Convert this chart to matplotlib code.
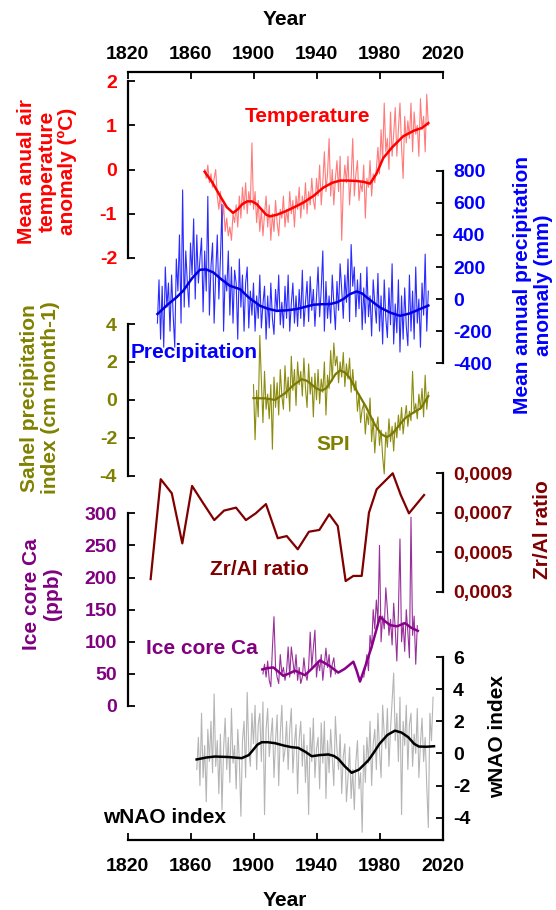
import numpy as np
import matplotlib
matplotlib.use('Agg')
import matplotlib.pyplot as plt

plt.rcParams['font.family'] = ['Liberation Sans', 'DejaVu Sans']
plt.rcParams['font.weight'] = 'bold'
plt.rcParams['axes.unicode_minus'] = False

# ---- data ----
# temperature anomaly (ºC), annual from 1869
temp_start = 1869
temp = [0.0, -0.2, 0.1, -0.3, -0.1, -0.4, -0.2, 0.0, -0.6, -0.9,
        -0.5, -1.2, -0.8, -1.4, -1.1, -1.5, -1.3, -1.6, -1.0, -1.2,
        -0.8, -1.3, -0.6, -1.1, -0.4, -0.9, -0.3, -1.0, -0.5, -0.8,
        0.6, -0.9, -0.5, -1.2, -0.7, -1.4, -0.9, -1.5, -1.0, -0.6,
        -1.3, -0.8, -1.6, -1.0, -1.4, -0.7, -1.2, -1.5, -0.9, -1.1,
        -0.6, -1.3, -0.9, -1.2, -0.5, -1.0, -0.7, -1.3, -0.6, -0.9,
        -0.4, -1.1, -0.6, -0.9, -0.3, -1.0, -0.5, -0.8, -0.2, -0.7,
        -0.9, -0.2, -0.6, 0.1, -0.8, -0.3, 0.4, -0.5, -0.1, 0.7,
        -0.6, 0.0, -0.8, -0.2, 0.2, -0.5, 0.3, -1.6, -0.4, 0.1,
        -0.3, 0.3, -0.8, -0.2, 0.7, -0.6, -0.1, 0.2, -0.7, -0.3,
        -0.5, 0.1, -1.1, -0.2, -0.4, 0.2, -0.6, -0.1, -0.3, 0.0,
        0.5, -0.1, 0.9, 0.2, 1.5, 0.4, 0.7, 0.0, 1.3, 0.3,
        0.8, 1.4, 0.3, 0.9, 1.5, 0.5, -0.2, 1.2, 0.6, 1.1,
        0.7, 1.5, 0.4, 1.3, 0.8, 1.0, 0.3, 1.6, 0.9, 1.2,
        0.4, 1.7, 1.0]
temp_smooth_yr = [1869, 1874, 1878, 1883, 1887, 1890, 1893, 1896, 1899, 1902, 1905, 1908,
                  1910.5, 1915, 1920, 1926, 1931.6, 1938, 1944.3, 1950, 1955, 1960,
                  1965.5, 1970, 1974, 1978, 1982.4, 1988, 1995, 2002, 2007, 2011]
temp_smooth = [-0.05, -0.3, -0.55, -0.85, -0.98, -0.9, -0.78, -0.72, -0.72, -0.78, -0.9, -1.02,
               -1.06, -1.02, -0.95, -0.85, -0.75, -0.6, -0.41, -0.3, -0.25, -0.25,
               -0.26, -0.28, -0.32, -0.1, 0.26, 0.5, 0.75, 0.88, 0.94, 1.05]

# annual precipitation anomaly (mm), annual from 1839
prec_start = 1839
prec = [-150, 120, -250, 80, -300, 200, -50, 100, -200, 150,
        -100, -300, 250, 50, 400, -150, 680, -50, 300, 100,
        -50, 350, 150, 500, 0, 400, 100, 250, 380, -80,
        300, 50, 640, -100, 200, 350, -150, 150, 400, 0,
        250, 590, -200, 150, 50, 300, -100, 200, -150, 180,
        100, -250, 250, -50, 150, -200, 100, 200, -180, 50,
        -100, 100, -200, 20, -120, 150, -180, -30, 80, -250,
        20, -180, 100, -120, -220, 60, -80, 150, -160, -20,
        -180, 80, -120, 150, -200, -30, 100, -150, 20, -170,
        60, -120, 180, -170, -20, 110, -140, 140, -70, 60,
        -170, 20, 200, -110, 60, 300, -200, 110, -120, 20,
        -150, 150, -30, -190, 110, -70, 220, 60, -120, 150,
        -20, 250, -140, 340, 80, 200, -110, 120, -60, 160,
        -190, 70, -150, 200, -110, 20, -230, 120, -30, -150,
        160, -200, 20, -280, 120, -120, -240, 70, -160, 220,
        -280, -30, -210, 120, -330, 20, -250, 70, -170, -290,
        150, -200, 50, -250, 200, -150, 0, -300, 100, -100,
        280, -200, 50]
prec_smooth_yr = [1839, 1846, 1851, 1855.4, 1861, 1866, 1870, 1874.5, 1880, 1885, 1891.4,
                  1897, 1904, 1909, 1914.7, 1921, 1927.4, 1933, 1938, 1943, 1948.6, 1953,
                  1957, 1961, 1965.5, 1969, 1972, 1976, 1980.3, 1987, 1993, 1999, 2005.7, 2011]
prec_smooth = [-93, -30, 10, 52, 130, 183, 185, 166, 120, 83, 62,
               10, -41, -60, -73, -70, -62, -48, -35, -32, -31, -20,
               0, 30, 48, 35, 10, -20, -52, -85, -104, -90, -62, -40]

# Sahel precipitation index (cm month-1), annual from 1900
spi_start = 1900
spi = [0.8, -2.1, 0.5, -0.9, 3.4, 1.0, -1.2, 1.5, -0.5, 0.3,
       -1.0, 0.8, -2.6, 1.2, -0.4, 0.9, -0.8, 1.6, 0.2, -0.5,
       1.8, 0.1, 1.2, -0.6, 2.3, 0.5, 1.6, -0.3, 2.0, 0.8,
       1.5, 0.2, 2.2, 0.6, -0.4, 1.9, 0.3, 1.2, -0.9, 1.4,
       0.0, 1.6, -0.2, 1.1, 0.4, 2.0, -0.8, 1.3, 0.6, 2.6,
       1.0, 3.0, 1.8, 2.3, 0.9, 2.0, 1.2, 2.5, 0.7, 1.9,
       1.1, 2.2, 0.4, 1.6, 0.5, 1.0, -0.6, 0.3, -1.2, -0.5,
       -0.2, -1.8, -0.7, -1.3, 0.1, -2.2, -1.0, -2.8, -1.5, -0.9,
       -2.4, -1.6, -3.0, -3.9, -1.7, -2.5, -1.0, -2.2, -1.4, -2.7,
       -1.2, -2.0, -0.8, -1.6, -0.4, -1.8, -1.0, -0.3, -1.4, -0.6,
       -1.1, 1.5, -0.7, -0.2, -1.0, 0.3, -0.5, 0.6, -0.9, 1.3,
       -0.5, 0.4]
spi_smooth_yr = [1900, 1907, 1913.7, 1920, 1925, 1930.6, 1934, 1937, 1940, 1943.3, 1946, 1949,
                 1952, 1954.9, 1958, 1961.3, 1966, 1971.3, 1977, 1981, 1984.6, 1988, 1992,
                 1996.2, 2001, 2006.2, 2011]
spi_smooth = [0.09, 0.08, 0.0, 0.35, 0.75, 1.09, 1.0, 0.8, 0.6, 0.49, 0.6, 0.95,
              1.35, 1.55, 1.45, 1.14, 0.4, -0.35, -1.3, -1.8, -1.97, -1.8, -1.4,
              -0.97, -0.7, -0.44, 0.2]

# Zr/Al ratio
zr_yr = [1834.7, 1841.1, 1848.1, 1854.8, 1861.0, 1868.1, 1875.1, 1881.3, 1888.9, 1895.2,
         1901.4, 1907.9, 1915.4, 1921.1, 1928.1, 1935.2, 1941.8, 1948.1, 1953.5, 1958.5,
         1963.4, 1968.7, 1973.3, 1978.2, 1988.4, 1993.5, 1998.7, 2008.3]
zr = [0.000364, 0.000870, 0.000799, 0.000545, 0.000836, 0.000748, 0.000663, 0.000711, 0.000726, 0.000663,
      0.000697, 0.000744, 0.000571, 0.000582, 0.000515, 0.000604, 0.000613, 0.000692, 0.000633, 0.000354,
      0.000380, 0.000380, 0.000700, 0.000819, 0.000900, 0.000790, 0.000697, 0.000790]
zr_ticks = [0.0003, 0.0005, 0.0007, 0.0009]
zr_ticklabels = ['0,0003', '0,0005', '0,0007', '0,0009']

# Ice core Ca (ppb), annual from 1906 (gap 1953-1969)
ca_start = 1906
ca = [50, 65, 45, 70, 40, 30, 90, 139, 60, 45,
      35, 80, 50, 60, 40, 55, 92, 45, 92, 70,
      50, 80, 40, 60, 35, 45, 75, 50, 40, 60,
      115, 60, 90, 118, 45, 70, 55, 80, 40, 65,
      90, 60, 80, 45, 65, 75, 50,
      np.nan, np.nan, np.nan, np.nan, np.nan, np.nan, np.nan, np.nan, np.nan,
      np.nan, np.nan, np.nan, np.nan, np.nan, np.nan, np.nan, np.nan,
      45, 60, 80, 55, 110, 90, 150, 120, 165, 130,
      250, 100, 140, 120, 184, 150, 110, 135, 95, 160,
      120, 70, 145, 260, 100, 130, 85, 150, 115, 75,
      294, 110, 140, 65, 125]
ca_smooth_yr = [1905.6, 1909, 1912.6, 1916, 1918.9, 1923, 1926.3, 1929, 1932.7, 1937, 1942.2,
                1948, 1953.8, 1958, 1963.4, 1965.5, 1967.6, 1971, 1975.0, 1980.3, 1983,
                1986.7, 1991, 1996.2, 2000, 2004.3]
ca_smooth = [57, 59, 60, 53, 47, 51, 55, 52, 48, 58, 71,
             63, 52, 58, 69, 55, 38, 62, 92, 139, 133,
             126, 124, 129, 122, 117]

# winter NAO index, annual from 1864
nao_start = 1864
nao = [-1.0, 1.0, -2.0, 2.5, -1.5, 0.5, -3.0, 1.5, -0.5, 2.0,
       -1.2, 3.7, -0.8, 0.8, -2.5, 1.2, -3.5, 0.3, 2.2, -1.0,
       1.0, -1.8, 2.8, -0.6, 0.5, -2.2, 1.5, -0.4, -3.9, 0.8,
       2.0, -1.5, 3.8, 0.2, -0.8, 2.5, 0.6, 3.0, -1.0, 1.8,
       2.5, -0.5, 3.2, -3.8, 1.5, 2.8, -0.2, 1.0, 2.2, -1.5,
       0.8, 2.4, -2.0, 1.2, 3.0, -0.5, 0.2, 2.0, -1.0, 1.5,
       2.8, -1.2, 0.6, 1.8, -2.5, 0.9, 2.0, -0.8, 1.2, -1.8,
       0.5, -3.8, 1.6, -0.5, 2.2, -1.5, 0.3, 1.0, -2.2, 1.9,
       -0.6, 2.0, -2.8, 0.8, -1.2, 1.5, -0.3, -2.0, 2.3, 0.2,
       -1.0, 1.2, -2.5, -0.2, 0.6, -3.0, -1.5, 0.4, -2.8, -1.0,
       -3.5, -0.5, 0.8, -2.2, -1.2, -4.9, 0.5, -1.8, 1.0, -0.6,
       2.0, -2.0, 0.6, 1.5, -1.0, 2.5, 0.2, -1.5, 3.0, 1.2,
       0.3, 2.8, -0.8, 1.5, 3.2, 5.0, 0.8, 2.5, -0.5, 3.5,
       -3.8, 2.0, 0.5, 3.0, -1.0, 1.8, 2.5, -0.8, 1.2, 0.0,
       2.8, -1.5, 0.6, 2.2, -0.5, 1.0, -2.0, -4.6, 2.5, 0.8, 3.5]
nao_smooth_yr = [1863.9, 1870, 1875.6, 1884, 1892.5, 1897, 1900, 1902.5, 1905.2, 1909, 1913.7,
                 1919, 1924.3, 1928.4, 1933, 1937, 1942, 1947.5, 1951, 1953.8, 1958, 1962.3,
                 1967, 1972.9, 1976, 1980, 1985, 1989.8, 1994, 1998.3, 2002, 2005.1, 2010, 2014.6]
nao_smooth = [-0.37, -0.25, -0.19, -0.22, -0.29, -0.1, 0.25, 0.55, 0.70, 0.70, 0.64,
              0.5, 0.39, 0.35, 0.1, -0.17, -0.1, -0.06, -0.15, -0.33, -0.8, -1.2,
              -1.0, -0.43, 0.0, 0.6, 1.15, 1.42, 1.3, 1.01, 0.6, 0.43, 0.42, 0.45]

# ---- layout (pixels of a 556x910 canvas) ----
W_PX, H_PX = 556, 910
X0, X1 = 127.5 / W_PX, 442.5 / W_PX

fig = plt.figure(figsize=(5.56, 9.10), dpi=100)


def yrs(start, vals):
    return np.arange(start, start + len(vals))


def side_axis(top, bottom, lim, side, ticks, color, labels=None):
    ax = fig.add_axes([X0, 1 - bottom / H_PX, X1 - X0, (bottom - top) / H_PX])
    ax.set_xlim(1820, 2020)
    ax.set_ylim(*lim)
    ax.patch.set_alpha(0)
    for name, sp in ax.spines.items():
        sp.set_visible(name == side)
        sp.set_linewidth(1.6)
    ax.xaxis.set_visible(False)
    ax.yaxis.set_ticks_position(side)
    ax.set_yticks(ticks)
    if labels is not None:
        ax.set_yticklabels(labels)
    ax.tick_params(axis='y', direction='in', length=5, width=1.3,
                   pad=7.5, labelsize=14, labelcolor=color)
    return ax


def year_axis(y_px, side, pad):
    ax = fig.add_axes([X0, 1 - y_px / H_PX, X1 - X0, 0.001])
    ax.set_xlim(1820, 2020)
    ax.patch.set_alpha(0)
    for name, sp in ax.spines.items():
        sp.set_visible(name == side)
        sp.set_linewidth(1.6)
    ax.set_yticks([])
    ax.set_xticks(range(1820, 2021, 40))
    ax.xaxis.set_ticks_position(side)
    ax.tick_params(axis='x', direction='in', length=5, width=1.3, labelsize=14, pad=pad)
    return ax


# year axes top and bottom
year_axis(73, 'top', 6.5)
year_axis(840, 'bottom', 13)
fig.text(0.5127, 1 - 19.5 / H_PX, 'Year', ha='center', va='center', fontsize=15)
fig.text(0.5127, 1 - 901 / H_PX, 'Year', ha='center', va='center', fontsize=15)

# temperature
ax_t = side_axis(81, 258, (-2, 2), 'left', [-2, -1, 0, 1, 2], '#ff0000')
ax_t.plot(yrs(temp_start, temp), temp, color='#ff7a7a', lw=0.8, clip_on=False)
ax_t.plot(temp_smooth_yr, temp_smooth, color='#ff0000', lw=1.8, clip_on=False)
ax_t.text(1934, 1.2, 'Temperature', color='#ff0000', fontsize=15, ha='center', va='center')

# precipitation
ax_p = side_axis(170.7, 363.3, (-400, 800), 'right', [-400, -200, 0, 200, 400, 600, 800], '#0000ff')
ax_p.plot(yrs(prec_start, prec), prec, color='#2b2bff', lw=0.8, clip_on=False)
ax_p.plot(prec_smooth_yr, prec_smooth, color='#0000e0', lw=1.8, clip_on=False)
ax_p.text(1822, -330, 'Precipitation', color='#0000ff', fontsize=15, ha='left', va='center')

# SPI
ax_s = side_axis(324, 475.7, (-4, 4), 'left', [-4, -2, 0, 2, 4], '#808000')
ax_s.plot(yrs(spi_start, spi), spi, color='#8c8c10', lw=0.8, clip_on=False)
ax_s.plot(spi_smooth_yr, spi_smooth, color='#7a7a00', lw=1.6, clip_on=False)
ax_s.text(1950.5, -2.37, 'SPI', color='#808000', fontsize=15, ha='center', va='center')

# Zr/Al
ax_z = side_axis(473.3, 591.7, (0.0003, 0.0009), 'right', zr_ticks, '#800000', zr_ticklabels)
ax_z.plot(zr_yr, zr, color='#800000', lw=1.6, clip_on=False)
ax_z.text(1904, 0.00041, 'Zr/Al ratio', color='#800000', fontsize=15, ha='center', va='center')

# Ice core Ca
ax_c = side_axis(513.3, 706, (0, 300), 'left', [0, 50, 100, 150, 200, 250, 300], '#800080')
ax_c.plot(yrs(ca_start, ca), ca, color='#98309a', lw=0.8, clip_on=False)
ax_c.plot(ca_smooth_yr, ca_smooth, color='#8b008b', lw=1.8, clip_on=False)
ax_c.text(1867.3, 90, 'Ice core Ca', color='#800080', fontsize=15, ha='center', va='center')

# wNAO
ax_n = side_axis(657, 840, (-5.38, 6), 'right', [-4, -2, 0, 2, 4, 6], 'black')
ax_n.plot(yrs(nao_start, nao), nao, color='#b5b5b5', lw=0.8, clip_on=False)
ax_n.plot(nao_smooth_yr, nao_smooth, color='black', lw=1.8, clip_on=False)
ax_n.text(1843.5, -3.96, 'wNAO index', color='black', fontsize=15, ha='center', va='center')

# axis titles
fig.text(47 / W_PX, 1 - 171 / H_PX, 'Mean anual air\ntemperature\nanomaly (ºC)', color='#ff0000',
         rotation=90, ha='center', va='center', multialignment='center', fontsize=15, linespacing=1.1)
fig.text(40 / W_PX, 1 - 398 / H_PX, 'Sahel precipitation\nindex (cm month-1)', color='#808000',
         rotation=90, ha='center', va='center', multialignment='center', fontsize=15, linespacing=1.1)
fig.text(42 / W_PX, 1 - 594 / H_PX, 'Ice core Ca\n(ppb)', color='#800080',
         rotation=90, ha='center', va='center', multialignment='center', fontsize=15, linespacing=1.1)
fig.text(533 / W_PX, 1 - 285 / H_PX, 'Mean annual precipitation\nanomaly (mm)', color='#0000ff',
         rotation=90, ha='center', va='center', multialignment='center', fontsize=15, linespacing=1.1)
fig.text(542 / W_PX, 1 - 530 / H_PX, 'Zr/Al ratio', color='#800000',
         rotation=90, ha='center', va='center', fontsize=15)
fig.text(498 / W_PX, 1 - 737 / H_PX, 'wNAO index', color='black',
         rotation=90, ha='center', va='center', fontsize=15)

fig.savefig('out.png', dpi=100)
